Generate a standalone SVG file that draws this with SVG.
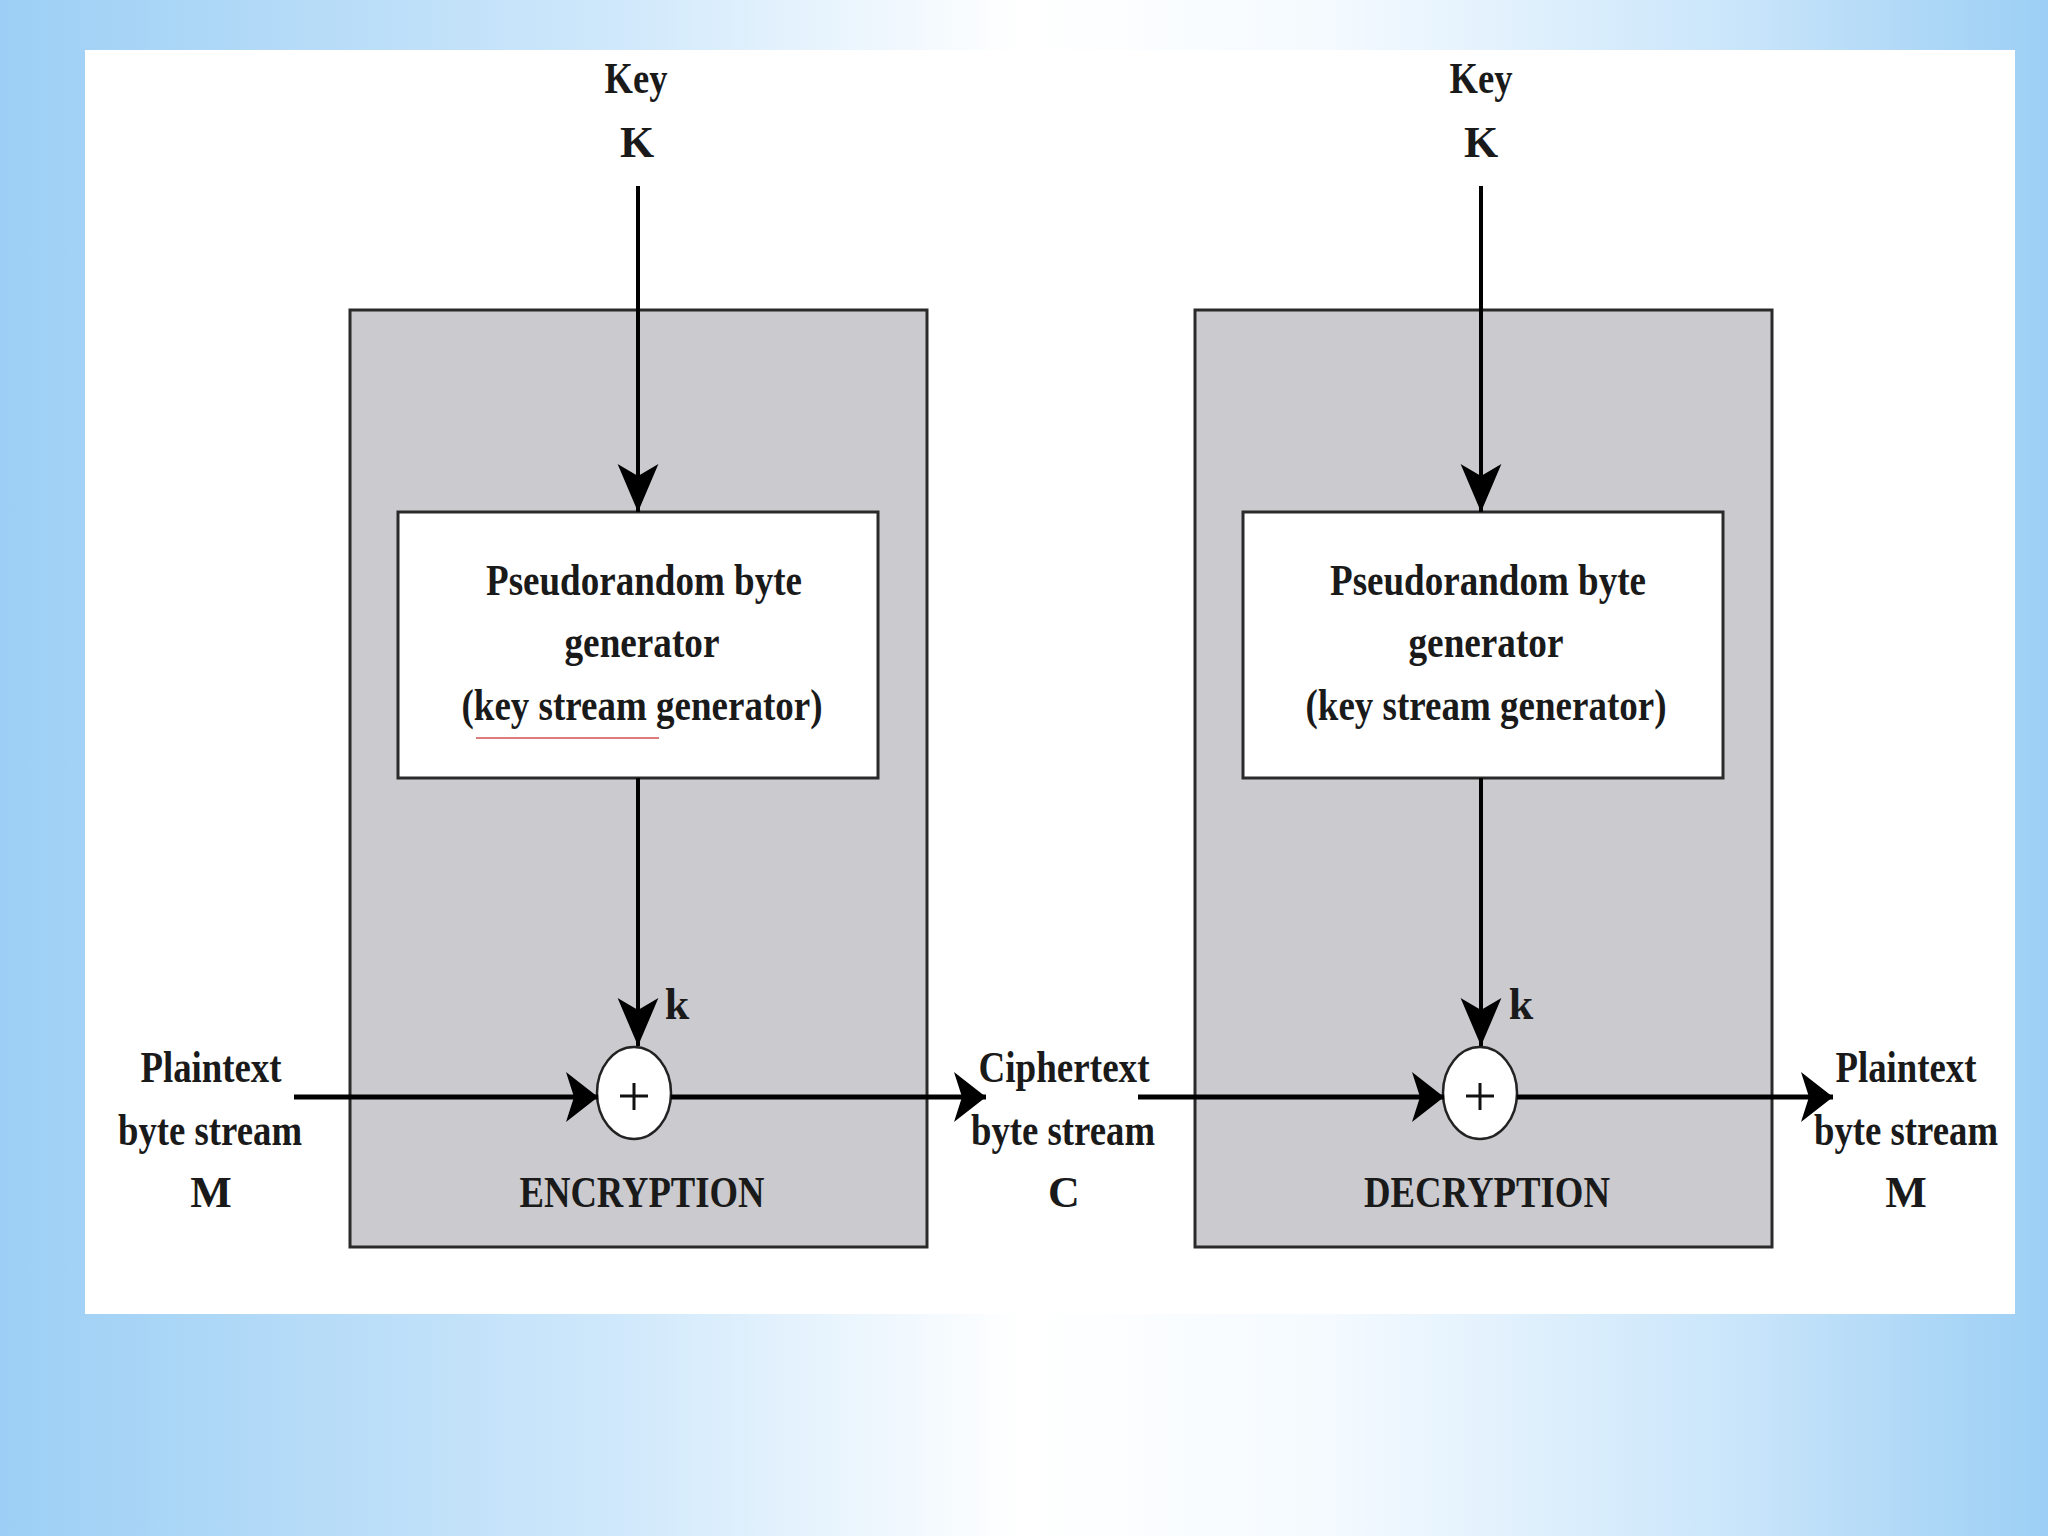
<svg xmlns="http://www.w3.org/2000/svg" width="2048" height="1536" viewBox="0 0 2048 1536">
<defs>
<linearGradient id="bg" x1="0" y1="0" x2="1" y2="0">
<stop offset="0" stop-color="#9ccff5"/>
<stop offset="0.3" stop-color="#cfe8fb"/>
<stop offset="0.5" stop-color="#ffffff"/>
<stop offset="0.65" stop-color="#f4faff"/>
<stop offset="0.85" stop-color="#c9e5fa"/>
<stop offset="1" stop-color="#9ccff5"/>
</linearGradient>
<marker id="headV" markerUnits="userSpaceOnUse" markerWidth="60" markerHeight="60" viewBox="-45 -25 50 50" refX="0" refY="0" orient="auto">
<path d="M0,0 L-40,-17 L-30,0 L-40,17 Z" fill="#000"/>
</marker>
<marker id="headH" markerUnits="userSpaceOnUse" markerWidth="60" markerHeight="60" viewBox="-40 -30 45 60" refX="0" refY="0" orient="auto">
<path d="M0,0 L-32,-25 L-24,0 L-32,25 Z" fill="#000"/>
</marker>
</defs>
<style>
.t{font-family:"Liberation Serif","Times New Roman",serif;font-weight:bold;font-size:44px;fill:#1a1a1a;text-anchor:middle}
.outer{fill:#cbcacf;stroke:#2a2a2a;stroke-width:3}
.inner{fill:#ffffff;stroke:#2a2a2a;stroke-width:3}
.xor{fill:#ffffff;stroke:#222;stroke-width:2.5}
.plus{stroke:#111;stroke-width:3}
.v{stroke:#000;stroke-width:4;fill:none}
.h{stroke:#000;stroke-width:5;fill:none}
</style>
<rect x="0" y="0" width="2048" height="1536" fill="url(#bg)"/>
<rect x="85" y="50" width="1930" height="1264" fill="#ffffff"/>

<g id="encryption">
<rect class="outer" x="350" y="310" width="577" height="937"/>
<text class="t" x="642" y="1207" textLength="245" lengthAdjust="spacingAndGlyphs" fill="#222">ENCRYPTION</text>
</g>
<g id="decryption">
<rect class="outer" x="1195" y="310" width="577" height="937"/>
<text class="t" x="1487" y="1207" textLength="246" lengthAdjust="spacingAndGlyphs">DECRYPTION</text>
</g>

<g id="gen-enc">
<rect class="inner" x="398" y="512" width="480" height="266"/>
<text class="t" x="644" y="595" textLength="316" lengthAdjust="spacingAndGlyphs">Pseudorandom byte</text>
<text class="t" x="642" y="657" textLength="155" lengthAdjust="spacingAndGlyphs">generator</text>
<text class="t" x="642" y="720" textLength="361" lengthAdjust="spacingAndGlyphs">(key stream generator)</text>
<line x1="476" y1="738" x2="659" y2="738" stroke="#d05050" stroke-width="1.5"/>
</g>
<g id="gen-dec">
<rect class="inner" x="1243" y="512" width="480" height="266"/>
<text class="t" x="1488" y="595" textLength="316" lengthAdjust="spacingAndGlyphs">Pseudorandom byte</text>
<text class="t" x="1486" y="657" textLength="155" lengthAdjust="spacingAndGlyphs">generator</text>
<text class="t" x="1486" y="720" textLength="361" lengthAdjust="spacingAndGlyphs">(key stream generator)</text>
</g>

<g id="xor-enc">
<ellipse class="xor" cx="634" cy="1093" rx="37" ry="46"/>
<line class="plus" x1="620" y1="1096" x2="648" y2="1096"/>
<line class="plus" x1="634" y1="1083" x2="634" y2="1110"/>
</g>
<g id="xor-dec">
<ellipse class="xor" cx="1480" cy="1093" rx="37" ry="46"/>
<line class="plus" x1="1466" y1="1096" x2="1494" y2="1096"/>
<line class="plus" x1="1480" y1="1083" x2="1480" y2="1110"/>
</g>

<g id="key-enc">
<text class="t" x="636" y="93" textLength="63" lengthAdjust="spacingAndGlyphs">Key</text>
<text class="t" x="637" y="157">K</text>
</g>
<g id="key-dec">
<text class="t" x="1481" y="93" textLength="63" lengthAdjust="spacingAndGlyphs">Key</text>
<text class="t" x="1481" y="157">K</text>
</g>

<g id="plain-in">
<text class="t" x="211" y="1082" textLength="141" lengthAdjust="spacingAndGlyphs">Plaintext</text>
<text class="t" x="210" y="1145" textLength="184" lengthAdjust="spacingAndGlyphs">byte stream</text>
<text class="t" x="211" y="1207">M</text>
</g>
<g id="cipher">
<text class="t" x="1064" y="1082" textLength="171" lengthAdjust="spacingAndGlyphs">Ciphertext</text>
<text class="t" x="1063" y="1145" textLength="184" lengthAdjust="spacingAndGlyphs">byte stream</text>
<text class="t" x="1064" y="1207">C</text>
</g>
<g id="plain-out">
<text class="t" x="1906" y="1082" textLength="141" lengthAdjust="spacingAndGlyphs">Plaintext</text>
<text class="t" x="1906" y="1145" textLength="184" lengthAdjust="spacingAndGlyphs">byte stream</text>
<text class="t" x="1906" y="1207">M</text>
</g>

<g id="connectors">
<line class="v" x1="638" y1="186" x2="638" y2="512" marker-end="url(#headV)"/>
<line class="v" x1="638" y1="778" x2="638" y2="1046" marker-end="url(#headV)"/>
<line class="v" x1="1481" y1="186" x2="1481" y2="512" marker-end="url(#headV)"/>
<line class="v" x1="1481" y1="778" x2="1481" y2="1046" marker-end="url(#headV)"/>
<line class="h" x1="294" y1="1097" x2="598" y2="1097" marker-end="url(#headH)"/>
<line class="h" x1="671" y1="1097" x2="986" y2="1097" marker-end="url(#headH)"/>
<line class="h" x1="1138" y1="1097" x2="1444" y2="1097" marker-end="url(#headH)"/>
<line class="h" x1="1517" y1="1097" x2="1833" y2="1097" marker-end="url(#headH)"/>
<text class="t" x="677" y="1019">k</text>
<text class="t" x="1521" y="1019">k</text>
</g>
</svg>
